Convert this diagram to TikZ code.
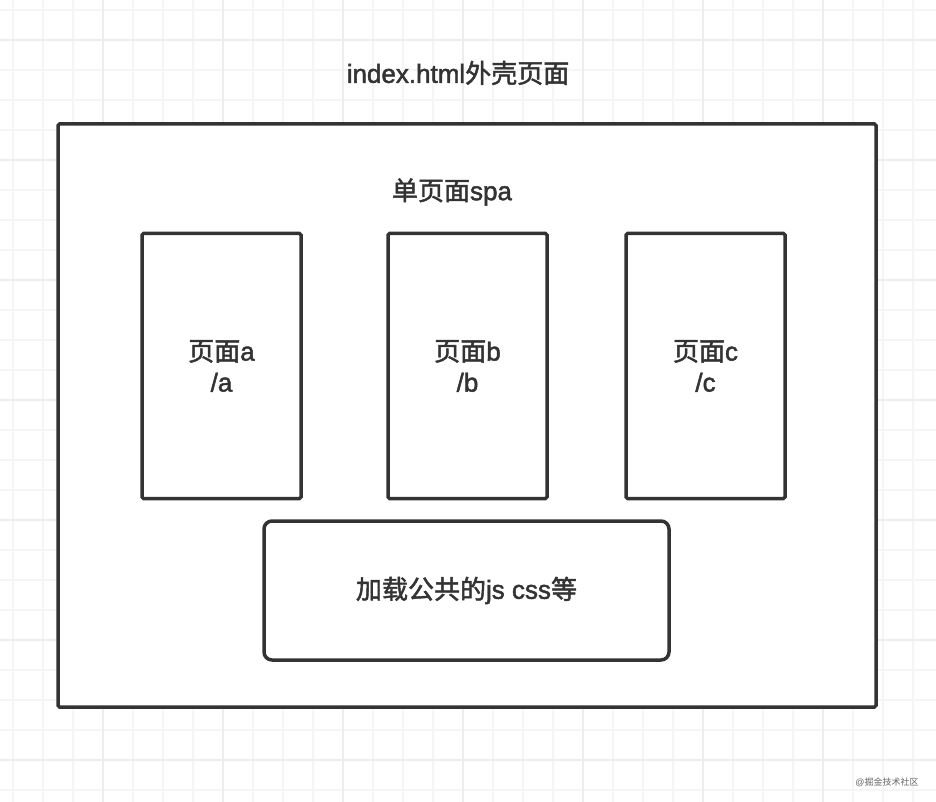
\documentclass[tikz,border=0pt]{standalone}
\usepackage{fontspec}
\newfontfamily\cjk{Noto Sans CJK SC}[FakeBold=1.8]
\newfontfamily\lat{Liberation Sans}[FakeBold=1.8]
\newfontfamily\cjkplain{Noto Sans CJK SC}
\newfontfamily\latplain{Liberation Sans}
\definecolor{ink}{HTML}{333333}
\definecolor{gridminor}{HTML}{F5F5F5}
\definecolor{gridmajor}{HTML}{EDEDED}
\definecolor{wm}{HTML}{666666}
\begin{document}
\begin{tikzpicture}[x=1pt,y=-1pt,
  minorline/.style={gridminor,line width=1.5pt},
  majorline/.style={gridmajor,line width=1.5pt},
  box/.style={draw=ink,line width=3.5pt,rounded corners=1.5pt,inner sep=0pt,fill=white},
  pagebox/.style={box,minimum width=159pt,minimum height=265pt,align=center,font=\fontsize{26}{31}\selectfont,text=ink},
  lbl/.style={text=ink,inner sep=0pt,font=\fontsize{26}{29}\selectfont}
]
\useasboundingbox (0,0) rectangle (936,802);
\fill[white] (0,0) rectangle (936,802);
\foreach \x in {13,43,...,933} \draw[minorline] (\x,0) -- (\x,802);
\foreach \y in {10,40,...,800} \draw[minorline] (0,\y) -- (936,\y);
\foreach \x in {103,223,...,933} \draw[majorline] (\x,0) -- (\x,802);
\foreach \y in {40,160,...,800} \draw[majorline] (0,\y) -- (936,\y);

\node[lbl] (title) at (458,73) {\lat index.html\cjk 外壳页面};
\node[box,minimum width=818pt,minimum height=583pt] (outer) at (467,415.5) {};
\node[lbl] (spa) at (452,192) {\cjk 单页面\lat spa};
\node[pagebox] (pa) at (221.5,366) {{\cjk 页面}{\lat a}\\{\lat /a}};
\node[pagebox] (pb) at (467.5,366) {{\cjk 页面}{\lat b}\\{\lat /b}};
\node[pagebox] (pc) at (705.5,366) {{\cjk 页面}{\lat c}\\{\lat /c}};
\node[box,rounded corners=8pt,minimum width=405pt,minimum height=139pt,text=ink,font=\fontsize{26}{29}\selectfont] (common) at (466.5,590.5) {{\cjk 加载公共的}{\lat js css}{\cjk 等}};
\node[text=wm,inner sep=0pt,font=\fontsize{9}{10}\selectfont] (mark) at (887,782) {{\latplain @}{\cjkplain 掘金技术社区}};
\end{tikzpicture}
\end{document}
